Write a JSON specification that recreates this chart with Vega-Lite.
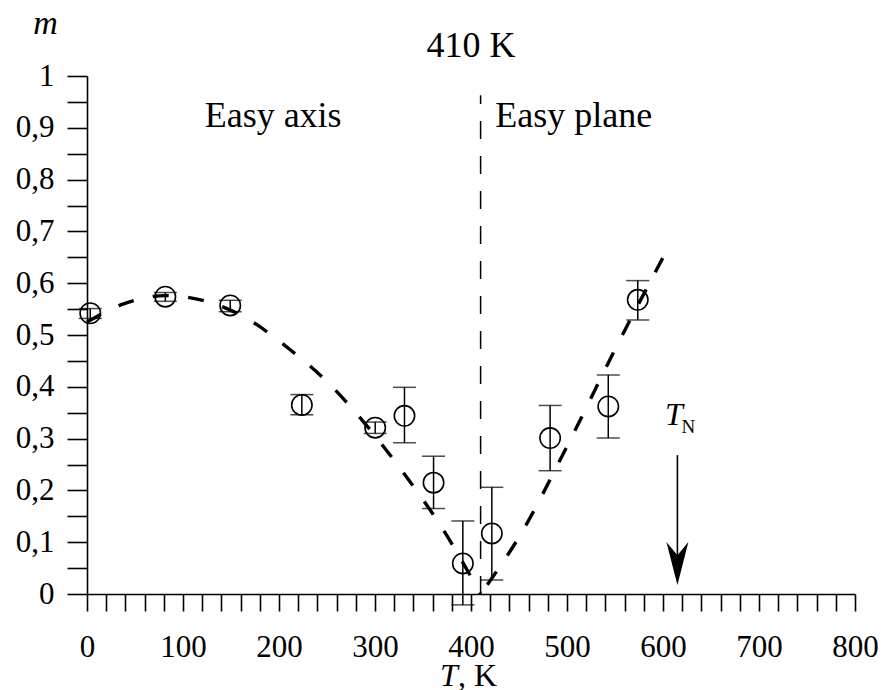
{
  "$schema": "https://vega.github.io/schema/vega-lite/v6.json",
  "width": 768,
  "height": 518,
  "autosize": {"type": "none"},
  "padding": {"left": 87, "top": 76, "right": 28, "bottom": 96},
  "background": "white",
  "config": {"view": {"stroke": null}},
  "datasets": {
    "points": [
      {"T": 3.4, "m": 0.542, "lo": 0.532, "hi": 0.551},
      {"T": 81.6, "m": 0.574, "lo": 0.565, "hi": 0.582},
      {"T": 149.2, "m": 0.557, "lo": 0.545, "hi": 0.567},
      {"T": 223.8, "m": 0.365, "lo": 0.346, "hi": 0.385},
      {"T": 300.2, "m": 0.321, "lo": 0.310, "hi": 0.332},
      {"T": 330.7, "m": 0.344, "lo": 0.292, "hi": 0.399},
      {"T": 361.0, "m": 0.215, "lo": 0.165, "hi": 0.266},
      {"T": 391.5, "m": 0.059, "lo": -0.021, "hi": 0.141},
      {"T": 421.7, "m": 0.117, "lo": 0.027, "hi": 0.206},
      {"T": 482.4, "m": 0.301, "lo": 0.238, "hi": 0.364},
      {"T": 543.0, "m": 0.362, "lo": 0.301, "hi": 0.423},
      {"T": 573.7, "m": 0.568, "lo": 0.529, "hi": 0.605}
    ],
    "curve": [
      {"seg": "axis", "T": 0, "m": 0.525},
      {"seg": "axis", "T": 35, "m": 0.558},
      {"seg": "axis", "T": 82, "m": 0.576},
      {"seg": "axis", "T": 130, "m": 0.562},
      {"seg": "axis", "T": 170, "m": 0.528},
      {"seg": "axis", "T": 210, "m": 0.474},
      {"seg": "axis", "T": 250, "m": 0.41},
      {"seg": "axis", "T": 290, "m": 0.328},
      {"seg": "axis", "T": 330, "m": 0.233},
      {"seg": "axis", "T": 370, "m": 0.127},
      {"seg": "axis", "T": 410, "m": 0.0},
      {"seg": "plane", "T": 417, "m": 0.018},
      {"seg": "plane", "T": 450, "m": 0.11},
      {"seg": "plane", "T": 500, "m": 0.285},
      {"seg": "plane", "T": 550, "m": 0.472},
      {"seg": "plane", "T": 603, "m": 0.66}
    ],
    "labels": [
      {"T": 193.9, "m": 0.902, "text": "Easy axis"},
      {"T": 507, "m": 0.902, "text": "Easy plane"},
      {"T": 400, "m": 1.037, "text": "410 K"}
    ]
  },
  "encoding": {
    "x": {
      "field": "T", "type": "quantitative",
      "scale": {"domain": [0, 800], "nice": false, "zero": false},
      "axis": {
        "values": [0,20,40,60,80,100,120,140,160,180,200,220,240,260,280,300,320,340,360,380,400,420,440,460,480,500,520,540,560,580,600,620,640,660,680,700,720,740,760,780,800],
        "labelExpr": "datum.value % 100 === 0 ? datum.label : ''",
        "tickSize": 17,
        "labelPadding": 21,
        "encode": {"ticks": {"update": {"y2": {"signal": "datum.value % 100 === 0 ? 17 : 9"}}}},
        "domainColor": "black", "domainWidth": 1.6,
        "tickColor": "black", "tickWidth": 1.6,
        "labelFont": "Liberation Serif", "labelFontSize": 31, "labelColor": "black",
        "labelOverlap": false, "labelFlush": false,
        "grid": false, "title": null
      }
    },
    "y": {
      "field": "m", "type": "quantitative",
      "scale": {"domain": [0, 1], "nice": false, "zero": false},
      "axis": {
        "values": [0,0.05,0.1,0.15,0.2,0.25,0.3,0.35,0.4,0.45,0.5,0.55,0.6,0.65,0.7,0.75,0.8,0.85,0.9,0.95,1],
        "labelExpr": "abs(datum.value*10-round(datum.value*10))<0.001 ? replace(format(datum.value,'.1~f'),'.',',') : ''",
        "tickSize": 20,
        "labelPadding": 13,
        "encode": {"ticks": {"update": {"x2": {"signal": "abs(datum.value*10-round(datum.value*10))<0.001 ? -20 : -10"}}}},
        "domainColor": "black", "domainWidth": 1.6,
        "tickColor": "black", "tickWidth": 1.6,
        "labelFont": "Liberation Serif", "labelFontSize": 31, "labelColor": "black",
        "labelOverlap": false, "labelFlush": false,
        "grid": false,
        "title": "m",
        "titleFont": "Liberation Serif", "titleFontStyle": "italic", "titleFontWeight": "normal",
        "titleFontSize": 34, "titleColor": "black",
        "titleAngle": 0, "titleX": -42, "titleY": -43,
        "titleAlign": "center", "titleBaseline": "alphabetic"
      }
    }
  },
  "layer": [
    {
      "data": {"values": [{"T": 410, "m0": 0, "m1": 0.963}]},
      "mark": {"type": "rule", "color": "black", "strokeWidth": 1.5, "strokeDash": [18, 17], "clip": false},
      "encoding": {"x": {"field": "T", "type": "quantitative"}, "y": {"field": "m0", "type": "quantitative"}, "y2": {"field": "m1"}}
    },
    {
      "data": {"name": "curve"},
      "mark": {"type": "line", "color": "black", "strokeWidth": 3.4, "strokeDash": [16, 19.5], "interpolate": "monotone", "clip": false},
      "encoding": {"detail": {"field": "seg"}}
    },
    {
      "data": {"name": "points"},
      "mark": {"type": "rule", "color": "black", "strokeWidth": 1.5, "clip": false},
      "encoding": {"y": {"field": "lo", "type": "quantitative"}, "y2": {"field": "hi"}}
    },
    {
      "data": {"name": "points"},
      "mark": {"type": "tick", "orient": "horizontal", "size": 23, "thickness": 1.5, "color": "black", "clip": false},
      "encoding": {"y": {"field": "lo", "type": "quantitative"}}
    },
    {
      "data": {"name": "points"},
      "mark": {"type": "tick", "orient": "horizontal", "size": 23, "thickness": 1.5, "color": "black", "clip": false},
      "encoding": {"y": {"field": "hi", "type": "quantitative"}}
    },
    {
      "data": {"name": "points"},
      "mark": {"type": "point", "shape": "circle", "size": 415, "filled": false, "stroke": "black", "strokeWidth": 1.6, "opacity": 1, "clip": false}
    },
    {
      "data": {"values": [{"T": 615, "m0": 0.268, "m1": 0.07}]},
      "mark": {"type": "rule", "color": "black", "strokeWidth": 1.6, "clip": false},
      "encoding": {"x": {"field": "T", "type": "quantitative"}, "y": {"field": "m0", "type": "quantitative"}, "y2": {"field": "m1"}}
    },
    {
      "data": {"values": [{"T": 615, "m": 0.059}]},
      "mark": {"type": "point", "shape": "M0,1.95 L-1,-1.95 L0,-0.75 L1,-1.95 Z", "size": 484, "filled": true, "color": "black", "opacity": 1, "clip": false}
    },
    {
      "data": {"name": "labels"},
      "mark": {"type": "text", "font": "Liberation Serif", "fontSize": 36, "color": "black", "align": "center", "baseline": "alphabetic", "clip": false},
      "encoding": {"text": {"field": "text"}}
    },
    {
      "data": {"values": [{"T": 611.4, "m": 0.326, "text": "T"}, {"T": 377, "m": -0.178, "text": "T"}]},
      "mark": {"type": "text", "font": "Liberation Serif", "fontSize": 32, "fontStyle": "italic", "color": "black", "align": "center", "baseline": "alphabetic", "clip": false},
      "encoding": {"text": {"field": "text"}}
    },
    {
      "data": {"values": [{"T": 386.5, "m": -0.178, "text": ", K"}]},
      "mark": {"type": "text", "font": "Liberation Serif", "fontSize": 32, "color": "black", "align": "left", "baseline": "alphabetic", "clip": false},
      "encoding": {"text": {"field": "text"}}
    },
    {
      "data": {"values": [{"T": 626.5, "m": 0.31, "text": "N"}]},
      "mark": {"type": "text", "font": "Liberation Serif", "fontSize": 19, "color": "black", "align": "center", "baseline": "alphabetic", "clip": false},
      "encoding": {"text": {"field": "text"}}
    }
  ]
}
